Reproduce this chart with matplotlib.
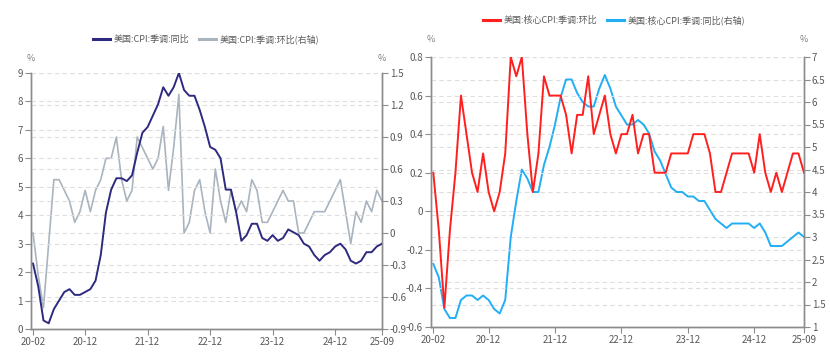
import matplotlib
matplotlib.use("Agg")
import matplotlib.pyplot as plt
from matplotlib.lines import Line2D

plt.rcParams['font.family'] = ['Noto Sans CJK SC', 'DejaVu Sans']

# 月份 2020-02 .. 2025-09
months = list(range(68))
xtick_pos = [0, 10, 22, 34, 46, 58, 67]
xtick_labels = ['20-02', '20-12', '21-12', '22-12', '23-12', '24-12', '25-09']

# 美国 CPI 季调 同比 (左轴)
cpi_yoy = [2.3, 1.5, 0.3, 0.2, 0.7, 1.0, 1.3, 1.4, 1.2, 1.2, 1.3,
           1.4, 1.7, 2.6, 4.1, 4.9, 5.3, 5.3, 5.2, 5.4, 6.2, 6.9, 7.1,
           7.5, 7.9, 8.5, 8.2, 8.5, 9.0, 8.4, 8.2, 8.2, 7.7, 7.1, 6.4,
           6.3, 6.0, 4.9, 4.9, 4.1, 3.1, 3.3, 3.7, 3.7, 3.2, 3.1, 3.3,
           3.1, 3.2, 3.5, 3.4, 3.3, 3.0, 2.9, 2.6, 2.4, 2.6, 2.7, 2.9,
           3.0, 2.8, 2.4, 2.3, 2.4, 2.7, 2.7, 2.9, 3.0]
# 美国 CPI 季调 环比 (右轴)
cpi_mom = [0.0, -0.4, -0.7, -0.1, 0.5, 0.5, 0.4, 0.3, 0.1, 0.2, 0.4,
           0.2, 0.4, 0.5, 0.7, 0.7, 0.9, 0.5, 0.3, 0.4, 0.9, 0.8, 0.7,
           0.6, 0.7, 1.0, 0.4, 0.8, 1.3, 0.0, 0.1, 0.4, 0.5, 0.2, 0.0,
           0.6, 0.3, 0.1, 0.4, 0.2, 0.3, 0.2, 0.5, 0.4, 0.1, 0.1, 0.2,
           0.3, 0.4, 0.3, 0.3, 0.0, 0.0, 0.1, 0.2, 0.2, 0.2, 0.3, 0.4,
           0.5, 0.2, -0.1, 0.2, 0.1, 0.3, 0.2, 0.4, 0.3]
# 美国 核心CPI 季调 环比 (左轴)
core_mom = [0.2, -0.1, -0.5, -0.1, 0.2, 0.6, 0.4, 0.2, 0.1, 0.3, 0.1,
            0.0, 0.1, 0.3, 0.8, 0.7, 0.8, 0.4, 0.1, 0.3, 0.7, 0.6, 0.6,
            0.6, 0.5, 0.3, 0.5, 0.5, 0.7, 0.4, 0.5, 0.6, 0.4, 0.3, 0.4,
            0.4, 0.5, 0.3, 0.4, 0.4, 0.2, 0.2, 0.2, 0.3, 0.3, 0.3, 0.3,
            0.4, 0.4, 0.4, 0.3, 0.1, 0.1, 0.2, 0.3, 0.3, 0.3, 0.3, 0.2,
            0.4, 0.2, 0.1, 0.2, 0.1, 0.2, 0.3, 0.3, 0.2]
# 美国 核心CPI 季调 同比 (右轴)
core_yoy = [2.4, 2.1, 1.4, 1.2, 1.2, 1.6, 1.7, 1.7, 1.6, 1.7, 1.6,
            1.4, 1.3, 1.6, 3.0, 3.8, 4.5, 4.3, 4.0, 4.0, 4.6, 5.0, 5.5,
            6.1, 6.5, 6.5, 6.2, 6.0, 5.9, 5.9, 6.3, 6.6, 6.3, 5.9, 5.7,
            5.5, 5.5, 5.6, 5.5, 5.3, 4.9, 4.7, 4.4, 4.1, 4.0, 4.0, 3.9,
            3.9, 3.8, 3.8, 3.6, 3.4, 3.3, 3.2, 3.3, 3.3, 3.3, 3.3, 3.2,
            3.3, 3.1, 2.8, 2.8, 2.8, 2.9, 3.0, 3.1, 3.0]

left_ticks_a = [0, 1, 2, 3, 4, 5, 6, 7, 8, 9]
right_ticks_a = [-0.9, -0.6, -0.3, 0, 0.3, 0.6, 0.9, 1.2, 1.5]
right_labels_a = ['-0.9', '-0.6', '-0.3', '0', '0.3', '0.6', '0.9', '1.2', '1.5']
left_ticks_b = [-0.6, -0.4, -0.2, 0, 0.2, 0.4, 0.6, 0.8]
left_labels_b = ['-0.6', '-0.4', '-0.2', '0', '0.2', '0.4', '0.6', '0.8']
right_ticks_b = [1, 1.5, 2, 2.5, 3, 3.5, 4, 4.5, 5, 5.5, 6, 6.5, 7]
right_labels_b = ['1', '1.5', '2', '2.5', '3', '3.5', '4', '4.5', '5', '5.5', '6', '6.5', '7']

TXT = '#595959'
SPINE = '#8c8c8c'
GRID = '#dedede'


def style(ax):
    ax.spines['top'].set_visible(False)
    for s in ['left', 'right', 'bottom']:
        ax.spines[s].set_color(SPINE)
        ax.spines[s].set_linewidth(1.0)
    ax.tick_params(axis='both', labelsize=7, colors=SPINE, labelcolor=TXT,
                   length=4, width=0.8, direction='out', pad=1.5)
    ax.grid(axis='y', color=GRID, linestyle=(0, (4, 3)), linewidth=0.8)
    ax.grid(axis='x', visible=False)


fig = plt.figure(figsize=(8.3, 3.52), dpi=100)

# ---------- 左图 ----------
ax1 = fig.add_axes([30.7 / 830, 23 / 352, 351.3 / 830, 256 / 352])
ax1b = ax1.twinx()
ax1b.plot(months, cpi_mom, color='#a9b4be', linewidth=1.2)
ax1.plot(months, cpi_yoy, color='#2e2a80', linewidth=1.4)
ax1.set_zorder(ax1b.get_zorder() + 1)
ax1.patch.set_visible(False)
ax1.set_xlim(-0.45, 67)
ax1.set_ylim(0, 9)
ax1.set_yticks(left_ticks_a)
ax1b.set_ylim(-0.9, 1.5)
ax1b.set_yticks(right_ticks_a)
ax1b.set_yticklabels(right_labels_a)
ax1.set_xticks(xtick_pos)
ax1.set_xticklabels(xtick_labels)
style(ax1)
style(ax1b)
ax1.text(0, 1.055, '%', transform=ax1.transAxes, ha='center', va='center', fontsize=6.5, color='#7f7f7f')
ax1.text(1, 1.055, '%', transform=ax1.transAxes, ha='center', va='center', fontsize=6.5, color='#7f7f7f')

h1 = [Line2D([], [], color='#2e2a80', linewidth=2.2),
      Line2D([], [], color='#a9b4be', linewidth=2.2)]
fig.legend(h1, ['美国:CPI:季调:同比', '美国:CPI:季调:环比(右轴)'],
           loc='center', bbox_to_anchor=(206 / 830, 1 - 39 / 352), ncol=2,
           frameon=False, fontsize=6.5, handlelength=1.9, handletextpad=0.45,
           columnspacing=1.0, labelcolor=TXT)

# ---------- 右图 ----------
ax2 = fig.add_axes([430.7 / 830, 25 / 352, 373.3 / 830, 270 / 352])
ax2b = ax2.twinx()
ax2b.plot(months, core_yoy, color='#22aef5', linewidth=1.4)
ax2.plot(months, core_mom, color='#ff1f1f', linewidth=1.4)
ax2.set_zorder(ax2b.get_zorder() + 1)
ax2.patch.set_visible(False)
ax2.set_xlim(-0.47, 67)
ax2.set_ylim(-0.6, 0.8)
ax2.set_yticks(left_ticks_b)
ax2.set_yticklabels(left_labels_b)
ax2b.set_ylim(1, 7)
ax2b.set_yticks(right_ticks_b)
ax2b.set_yticklabels(right_labels_b)
ax2.set_xticks(xtick_pos)
ax2.set_xticklabels(xtick_labels)
style(ax2)
style(ax2b)
ax2.text(0, 1.063, '%', transform=ax2.transAxes, ha='center', va='center', fontsize=6.5, color='#7f7f7f')
ax2.text(1, 1.063, '%', transform=ax2.transAxes, ha='center', va='center', fontsize=6.5, color='#7f7f7f')

h2 = [Line2D([], [], color='#ff1f1f', linewidth=2.2),
      Line2D([], [], color='#22aef5', linewidth=2.2)]
fig.legend(h2, ['美国:核心CPI:季调:环比', '美国:核心CPI:季调:同比(右轴)'],
           loc='center', bbox_to_anchor=(614 / 830, 1 - 20 / 352), ncol=2,
           frameon=False, fontsize=6.5, handlelength=1.9, handletextpad=0.45,
           columnspacing=1.0, labelcolor=TXT)

fig.savefig('out.png', dpi=100)
